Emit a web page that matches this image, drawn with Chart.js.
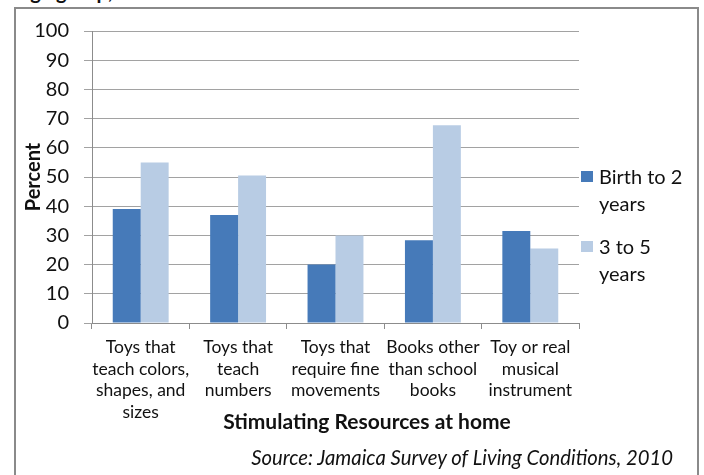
<!DOCTYPE html>
<html>
<head>
<meta charset="utf-8">
<script src="https://cdn.jsdelivr.net/npm/chart.js@4"></script>
<style>
  html, body { margin: 0; padding: 0; background: #fff; width: 704px; height: 475px; overflow: hidden; }
  body { font-family: Lato, "Open Sans", sans-serif; color: #111; position: relative; }
  #chart { position: absolute; left: 0; top: 0; }
  #frame { position: absolute; left: 14px; top: 7px; width: 681px; height: 490px; border: 2px solid #8a8a8a; pointer-events: none; }
  #cut-title { position: absolute; left: 20px; top: -19px; font-weight: bold; font-size: 20px; line-height: 20px; white-space: nowrap; }
  #x-title { position: absolute; left: 117px; width: 500px; top: 409px; text-align: center; font-weight: bold; font-size: 21px; line-height: 24px; }
  #source { position: absolute; right: 31px; top: 446px; font-style: italic; font-size: 20.3px; line-height: 22px; white-space: nowrap; }
  .legend-item { position: absolute; left: 581px; font-size: 20px; line-height: 27px; }
  .legend-item .swatch { position: absolute; left: 0; top: 8px; width: 12px; height: 11px; }
  .legend-item .text { position: absolute; left: 18px; top: 0; white-space: nowrap; }
</style>
</head>
<body>
<div id="cut-title">age group,</div>
<canvas id="chart" width="704" height="475"></canvas>
<div id="x-title">Stimulating Resources at home</div>
<div id="source">Source: Jamaica Survey of Living Conditions, 2010</div>
<div id="legend"></div>
<div id="frame"></div>
<script>
// Resource categories (multi-line labels under the axis)
const categories = [
  ["Toys that", "teach colors,", "shapes, and", "sizes"],
  ["Toys that", "teach", "numbers"],
  ["Toys that", "require fine", "movements"],
  ["Books other", "than school", "books"],
  ["Toy or real", "musical", "instrument"]
];

// Age-group series names and colours
const seriesNames = ["Birth to 2 years", "3 to 5 years"];
const seriesColors = ["#467AB9", "#B8CCE4"];

// Percent of children with each resource at home
const birthTo2 = [39, 37, 20, 28.3, 31.5];
const threeTo5 = [55, 50.5, 30, 67.7, 25.5];

// Value axis
const yMin = 0;
const yMax = 100;
const yStep = 10;

const family = "Lato, 'Open Sans', sans-serif";
const labelFont = { family, size: 17.5, lineHeight: 1.23 };
const tickFont = { family, size: 20 };
const gridGrey = "#a2a2a2";
const axisGrey = "#8c8c8c";

const chart = new Chart(document.getElementById("chart"), {
  type: "bar",
  data: {
    labels: categories,
    datasets: [
      { label: seriesNames[0], data: birthTo2, backgroundColor: seriesColors[0], borderWidth: 0 },
      { label: seriesNames[1], data: threeTo5, backgroundColor: seriesColors[1], borderWidth: 0 }
    ]
  },
  options: {
    responsive: false,
    animation: false,
    events: [],
    datasets: { bar: { categoryPercentage: 0.574, barPercentage: 1 } },
    layout: { padding: { left: 0, top: 31, right: 125, bottom: 0 } },
    plugins: { legend: { display: false }, tooltip: { enabled: false }, title: { display: false } },
    scales: {
      x: {
        grid: { display: true, offset: true, drawOnChartArea: false, drawTicks: true, tickLength: 6, color: axisGrey },
        border: { display: true, color: axisGrey, width: 1 },
        ticks: { font: labelFont, color: "#111", padding: 8, maxRotation: 0, minRotation: 0, autoSkip: false },
        afterFit(scale) { scale.height = 152; }
      },
      y: {
        min: yMin,
        max: yMax,
        ticks: { stepSize: yStep, font: tickFont, color: "#111", padding: 15 },
        grid: { color: gridGrey, lineWidth: 1, tickLength: 8, drawTicks: true },
        border: { display: true, color: axisGrey, width: 1 },
        title: {
          display: true,
          text: "Percent",
          color: "#111",
          font: { family, size: 20, weight: "bold", lineHeight: 1.2 },
          padding: { top: 22, bottom: 0 }
        },
        afterFit(scale) { scale.width = 92; }
      }
    }
  }
});

// Legend built from the dataset labels and colours, last word wrapped to a second line
const legend = document.getElementById("legend");
const legendTops = [163, 233];
chart.data.datasets.forEach((ds, i) => {
  const item = document.createElement("div");
  item.className = "legend-item";
  item.style.top = legendTops[i] + "px";
  const sw = document.createElement("div");
  sw.className = "swatch";
  sw.style.background = ds.backgroundColor;
  const txt = document.createElement("div");
  txt.className = "text";
  const cut = ds.label.lastIndexOf(" ");
  txt.appendChild(document.createTextNode(ds.label.slice(0, cut)));
  txt.appendChild(document.createElement("br"));
  txt.appendChild(document.createTextNode(ds.label.slice(cut + 1)));
  item.appendChild(sw);
  item.appendChild(txt);
  legend.appendChild(item);
});
</script>
</body>
</html>
